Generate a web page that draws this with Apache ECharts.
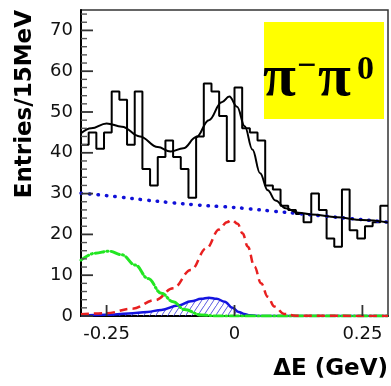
<!DOCTYPE html>
<html>
<head>
<meta charset="utf-8">
<script src="https://cdn.jsdelivr.net/npm/echarts@6/dist/echarts.min.js"></script>
<style>
  html, body { margin: 0; padding: 0; background: #fff; }
  #chart { width: 391px; height: 386px; }
</style>
</head>
<body>
<div id="chart"></div>
<script>
// ΔE histogram (15 MeV bins from -0.3 to 0.3 GeV)
const binStart = -0.3;
const binWidth = 0.015;
const entries = [42, 45, 41, 45, 55, 53, 42, 55, 36, 32,
                 39, 43, 39, 36, 29, 44, 57, 55, 49, 38,
                 56, 46, 45, 43, 32, 31, 27, 26, 25, 23,
                 30, 26, 19, 17, 31, 21, 19, 22, 23, 27];

// Axis range and ticks
const xRange = [-0.3, 0.3];
const yRange = [0, 75];
const xTicks = [-0.25, 0, 0.25];
const yTicks = [0, 10, 20, 30, 40, 50, 60, 70];
const yMinorStep = 2;

// Total fit
const fitX = [-0.3, -0.28, -0.25, -0.22, -0.185, -0.15, -0.125, -0.1, -0.075, -0.05, -0.025, -0.01,
              0.005, 0.02, 0.035, 0.05, 0.065, 0.08, 0.1, 0.125, 0.15, 0.2, 0.25, 0.3];
const fitY = [44.8, 46.0, 47.2, 46.4, 44.0, 41.4, 40.3, 41.1, 43.8, 48.0, 52.4, 53.8,
              51.3, 46.5, 40.8, 35.0, 30.8, 28.3, 26.4, 25.3, 24.9, 24.2, 23.5, 22.9];

// Continuum background
const bkgX = [-0.3, -0.25, -0.2, -0.15, -0.1, -0.05, 0, 0.05, 0.1, 0.15, 0.2, 0.25, 0.3];
const bkgY = [30.1, 29.5, 28.8, 28.1, 27.5, 27.0, 26.6, 26.0, 25.4, 24.8, 24.2, 23.6, 23.0];

// Signal
const sigX = [-0.3, -0.25, -0.2, -0.155, -0.12, -0.085, -0.055, -0.03, -0.015, -0.005,
              0.006, 0.016, 0.026, 0.039, 0.052, 0.065, 0.078, 0.097, 0.12, 0.3];
const sigY = [0.4, 0.7, 1.8, 3.9, 6.8, 11.3, 16.6, 21.2, 23.0, 23.5,
              22.6, 20.2, 17.0, 12.1, 8.0, 4.7, 2.3, 0.5, 0.05, 0];

// Lower-ΔE peaking component
const lowX = [-0.3, -0.272, -0.246, -0.22, -0.194, -0.169, -0.143, -0.12, -0.098, -0.065, -0.033, 0, 0.3];
const lowY = [13.7, 15.4, 15.9, 15.0, 12.5, 9.2, 5.6, 3.5, 1.6, 0.25, 0, 0, 0];

// Hatched component
const hatX = [-0.3, -0.25, -0.207, -0.17, -0.143, -0.11, -0.085, -0.065, -0.05, -0.035,
              -0.019, -0.004, 0.008, 0.019, 0.03, 0.045, 0.3];
const hatY = [0.1, 0.3, 0.6, 1.0, 1.5, 2.6, 3.6, 4.2, 4.5, 4.2,
              3.5, 2.0, 1.0, 0.5, 0.2, 0, 0];

const pairs = (xs, ys) => xs.map((x, i) => [x, ys[i]]);

const histData = entries.map((c, i) => [binStart + i * binWidth, c]);
histData.push([binStart + entries.length * binWidth, entries[entries.length - 1]]);

// Tick marks drawn inward from the frame: [x, y, length, isY, isMajor]
const tickData = [];
yTicks.forEach(v => tickData.push([xRange[0], v, 12, 1, 1]));
for (let v = yRange[0]; v < yRange[1]; v += yMinorStep) {
  if (v % 10 !== 0) tickData.push([xRange[0], v, 6, 1, 0]);
}
xTicks.forEach(v => tickData.push([v, yRange[0], 11, 0, 1]));

function hatchPattern() {
  const w = 6, h = 9;
  const c = document.createElement('canvas');
  c.width = w; c.height = h;
  const g = c.getContext('2d');
  g.strokeStyle = 'rgba(60,60,220,0.85)';
  g.lineWidth = 1;
  g.beginPath();
  g.moveTo(0, h); g.lineTo(w, 0);
  g.moveTo(-w, h); g.lineTo(0, 0);
  g.moveTo(w, 2 * h); g.lineTo(2 * w, h);
  g.stroke();
  return c;
}

const chart = echarts.init(document.getElementById('chart'), null, { renderer: 'canvas' });

const labelFont = { fontFamily: '"DejaVu Sans", sans-serif', fontSize: 18, color: '#111' };
const serifBold = (px) => 'bold ' + px + 'px "Liberation Serif", serif';

chart.setOption({
  animation: false,
  grid: { left: 81, right: 3, top: 10, bottom: 70, show: true, borderColor: '#333', borderWidth: 1.5 },
  xAxis: {
    type: 'value', min: xRange[0], max: xRange[1],
    axisLine: { show: true, onZero: false, lineStyle: { color: '#000', width: 2 } },
    axisTick: { show: false },
    axisLabel: Object.assign({ customValues: xTicks, margin: 9,
      formatter: v => (v === 0 ? '0' : String(v)) }, labelFont),
    splitLine: { show: false }
  },
  yAxis: {
    type: 'value', min: yRange[0], max: yRange[1], position: 'left',
    axisLine: { show: true, onZero: false, lineStyle: { color: '#000', width: 2 } },
    axisTick: { show: false },
    axisLabel: Object.assign({ customValues: yTicks, margin: 8 }, labelFont),
    splitLine: { show: false }
  },
  series: [
    {
      name: 'ticks', type: 'custom', data: tickData, z: 8, silent: true,
      renderItem: (params, api) => {
        const p = api.coord([api.value(0), api.value(1)]);
        const len = api.value(2);
        const isY = api.value(3) === 1;
        const major = api.value(4) === 1;
        return {
          type: 'line',
          shape: isY ? { x1: p[0], y1: p[1], x2: p[0] + len, y2: p[1] }
                     : { x1: p[0], y1: p[1], x2: p[0], y2: p[1] - len },
          style: { stroke: major ? '#333' : '#555', lineWidth: major ? 1.8 : 1.4 }
        };
      }
    },
    {
      name: 'data', type: 'line', step: 'end', data: histData,
      showSymbol: false, lineStyle: { color: '#000', width: 2 }, z: 2
    },
    {
      name: 'hatched', type: 'line', data: pairs(hatX, hatY), smooth: 0.4, smoothMonotone: 'x',
      showSymbol: false, lineStyle: { color: '#1515e0', width: 2.5 },
      areaStyle: { color: { image: hatchPattern(), repeat: 'repeat' }, opacity: 1 }, z: 3
    },
    {
      name: 'low', type: 'line', data: pairs(lowX, lowY), smooth: 0.4, smoothMonotone: 'x',
      showSymbol: false, lineStyle: { color: '#22e622', width: 3, type: [9, 3, 1, 3], cap: 'round' }, z: 4
    },
    {
      name: 'signal', type: 'line', data: pairs(sigX, sigY), smooth: 0.4, smoothMonotone: 'x',
      showSymbol: false, lineStyle: { color: '#e82020', width: 2.5, type: [8, 5] }, z: 4
    },
    {
      name: 'background', type: 'line', data: pairs(bkgX, bkgY), smooth: 0.3,
      showSymbol: false, lineStyle: { color: '#1010d8', width: 3.5, type: [0.5, 8], cap: 'round' }, z: 5
    },
    {
      name: 'fit', type: 'line', data: pairs(fitX, fitY), smooth: 0.4, smoothMonotone: 'x',
      showSymbol: false, lineStyle: { color: '#000', width: 2 }, z: 6
    }
  ],
  graphic: [
    { type: 'rect', shape: { x: 264, y: 22, width: 120, height: 97 }, style: { fill: '#ffff00' }, z: 10 },
    { type: 'text', x: 263, y: 79, z: 11,
      style: { text: 'π', font: serifBold(60), fill: '#000', textVerticalAlign: 'middle' } },
    { type: 'text', x: 297, y: 67, z: 11,
      style: { text: '−', font: serifBold(34), fill: '#000', textVerticalAlign: 'middle' } },
    { type: 'text', x: 318, y: 79, z: 12,
      style: { text: 'π', font: serifBold(60), fill: '#000', textVerticalAlign: 'middle' } },
    { type: 'text', x: 357, y: 70, z: 11,
      style: { text: '0', font: serifBold(34), fill: '#000', textVerticalAlign: 'middle' } },
    { type: 'text', x: 388, y: 369, z: 11,
      style: { text: 'ΔE (GeV)', font: 'bold 23px "DejaVu Sans", sans-serif', fill: '#000', textAlign: 'right', textVerticalAlign: 'middle' } },
    { type: 'text', x: 25.5, y: 10, rotation: Math.PI / 2, z: 11,
      style: { text: 'Entries/15MeV', font: 'bold 23px "DejaVu Sans", sans-serif', fill: '#000', textAlign: 'right', textVerticalAlign: 'middle' } }
  ]
});
</script>
</body>
</html>
